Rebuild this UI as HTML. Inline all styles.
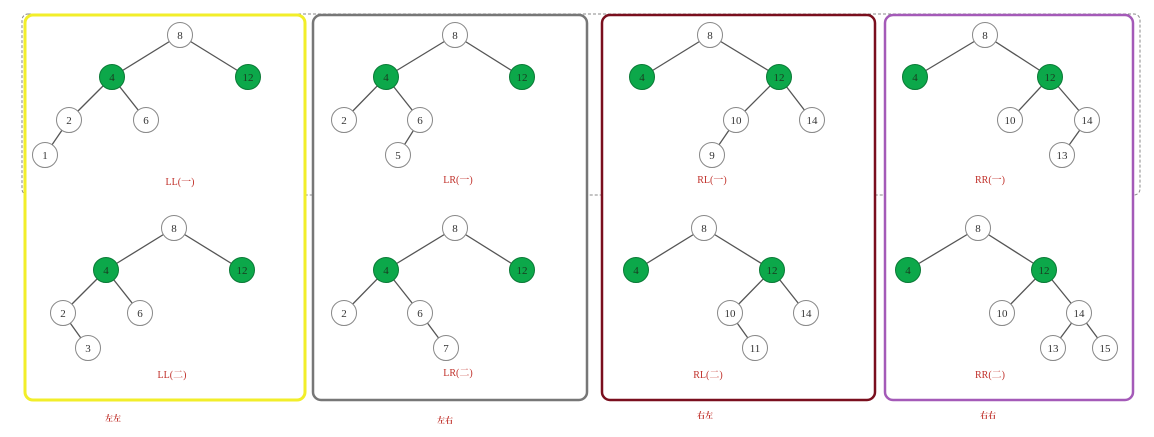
<!DOCTYPE html>
<html><head><meta charset="utf-8"><style>
html,body{margin:0;padding:0;background:#fff;width:1154px;height:437px;overflow:hidden}
svg{display:block}
</style></head><body>
<svg id="s" width="1154" height="437" xmlns="http://www.w3.org/2000/svg">
<rect x="22" y="14" width="1118" height="181" rx="6" fill="none" stroke="#888" stroke-dasharray="3,2" stroke-width="1"/>
<rect x="25" y="15" width="280" height="385" rx="8" fill="#fff" stroke="#f2ee2a" stroke-width="3"/>
<rect x="313" y="15" width="274" height="385" rx="8" fill="#fff" stroke="#777" stroke-width="2.5"/>
<rect x="602" y="15" width="273" height="385" rx="8" fill="#fff" stroke="#7a0f1e" stroke-width="2.5"/>
<rect x="885" y="15" width="248" height="385" rx="8" fill="#fff" stroke="#a45ab8" stroke-width="2.5"/>
<g id="g"></g>
</svg>
<script>
// each tree: labels, x, y, parent index, green flags
const treeNames=["ll-1","ll-2","lr-1","lr-2","rl-1","rl-2","rr-1","rr-2"];
const treeLabels=[["8","4","12","2","6","1"],["8","4","12","2","6","3"],["8","4","12","2","6","5"],["8","4","12","2","6","7"],["8","4","12","10","14","9"],["8","4","12","10","14","11"],["8","4","12","10","14","13"],["8","4","12","10","14","13","15"]];
const treeX=[[180,112,248,69,146,45],[174,106,242,63,140,88],[455,386,522,344,420,398],[455,386,522,344,420,446],[710,642,779,736,812,712],[704,636,772,730,806,755],[985,915,1050,1010,1087,1062],[978,908,1044,1002,1079,1053,1105]];
const treeY=[[35,77,77,120,120,155],[228,270,270,313,313,348],[35,77,77,120,120,155],[228,270,270,313,313,348],[35,77,77,120,120,155],[228,270,270,313,313,348],[35,77,77,120,120,155],[228,270,270,313,313,348,348]];
const treeParent=[[-1,0,0,1,1,3],[-1,0,0,1,1,3],[-1,0,0,1,1,4],[-1,0,0,1,1,4],[-1,0,0,2,2,3],[-1,0,0,2,2,3],[-1,0,0,2,2,4],[-1,0,0,2,2,4,4]];
const greenIdx=[1,2];
const caseLabels=["LL(一)","LL(二)","LR(一)","LR(二)","RL(一)","RL(二)","RR(一)","RR(二)"];
const caseX=[180,172,458,458,712,708,990,990];
const caseY=[185,378,183,376,183,378,183,378];
const captions=["左左","左右","右左","右右"];
const captionX=[113,445,705,988];
const captionY=[421,423,418,418];

const NS="http://www.w3.org/2000/svg";
const g=document.getElementById('g');
function mk(t,a){const e=document.createElementNS(NS,t);for(const k in a)e.setAttribute(k,a[k]);g.appendChild(e);return e;}
const R=12.5;
treeLabels.forEach((labs,t)=>{
  const xs=treeX[t],ys=treeY[t],ps=treeParent[t];
  ps.forEach((p,i)=>{if(p<0)return;
    const l=mk('line',{x1:xs[p],y1:ys[p],x2:xs[i],y2:ys[i],stroke:'#555','stroke-width':1.3});
    
    
  });
  labs.forEach((lab,i)=>{
    const gr=greenIdx.includes(i);
    const c=mk('circle',{cx:xs[i],cy:ys[i],r:R,fill:gr?'#0ca84a':'#fff',stroke:gr?'#0a7a36':'#888','stroke-width':1});
    
    
    const tx=mk('text',{x:xs[i],y:ys[i]+4,'text-anchor':'middle','font-size':11,'font-family':'Liberation Serif, serif',fill:gr?'#1a3a20':'#333'});
    tx.textContent=lab;
    
    
  });
  const ct=mk('text',{x:caseX[t],y:caseY[t],'text-anchor':'middle','font-size':10,'font-family':'Liberation Serif, "Noto Serif CJK SC", serif',fill:'#c0302a'});
  ct.textContent=caseLabels[t];
  
  
});
captions.forEach((c,i)=>{
  const t=mk('text',{x:captionX[i],y:captionY[i],'text-anchor':'middle','font-size':8,'font-weight':'bold','font-family':'"Noto Serif CJK SC", serif',fill:'#c0302a'});
  t.textContent=c;
  
  
});
</script>
</body></html>
